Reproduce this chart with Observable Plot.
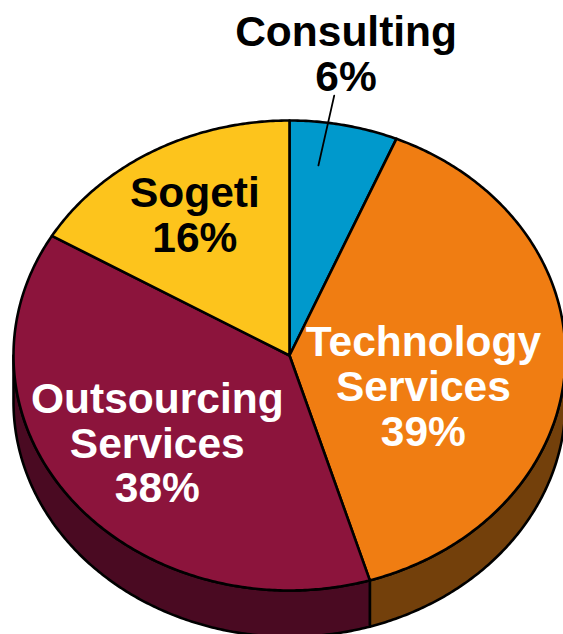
<!DOCTYPE html>
<html>
<head>
<meta charset="utf-8">
<style>html,body{margin:0;padding:0;background:#fff}svg{display:block}</style>
<script src="https://cdn.jsdelivr.net/npm/d3@7"></script>
<script src="https://cdn.jsdelivr.net/npm/@observablehq/plot@0.6"></script>
</head>
<body>
<div id="chart"></div>
<script>
const categories = ["Consulting", "Technology\nServices", "Outsourcing\nServices", "Sogeti"];
const shareLabels = [6, 39, 38, 16];
const shares = [6.33, 38.97, 38.2, 16.5];
const topColors = ["#0099cc", "#f07d12", "#8c143c", "#fdc41c"];
const wallColors = ["#00668a", "#73400b", "#4a0a22", "#a08010"];
const textColors = ["#000", "#fff", "#fff", "#000"];

// Layout of the pie, in unit-circle coordinates
const depth = 0.197;
const labelX = [0.205, 0.485, -0.479, -0.343];
const labelY = [1.283, -0.133, -0.374, 0.596];

const arcs = d3.pie().sort(null)(shares);
const px = (t) => Math.sin(t);
const py = (t) => Math.cos(t);
const arcPoints = (a, b, off = 0) => {
  const n = Math.max(2, Math.ceil((b - a) / 0.01));
  return d3.range(n + 1).map((i) => {
    const t = a + (b - a) * i / n;
    return {x: px(t), y: py(t) - off};
  });
};

const tops = arcs.flatMap((d, i) => {
  const c = {x: 0, y: 0};
  return [c, ...arcPoints(d.startAngle, d.endAngle), c].map((p) => ({...p, k: i}));
});

const lo = Math.PI / 2, hi = Math.PI * 3 / 2;
const walls = arcs.flatMap((d, i) => {
  const a = Math.max(d.startAngle, lo), b = Math.min(d.endAngle, hi);
  if (a >= b) return [];
  const upper = arcPoints(a, b);
  const lower = arcPoints(a, b, depth).reverse();
  return [...upper, ...lower, upper[0]].map((p) => ({...p, k: i}));
});

const labels = arcs.map((d, i) => ({
  x: labelX[i],
  y: labelY[i],
  text: `${categories[i]}\n${shareLabels[i]}%`,
  color: textColors[i]
}));

const mid0 = (arcs[0].startAngle + arcs[0].endAngle) / 2;
const leader = [
  {x: px(mid0) * 0.53, y: py(mid0) * 0.825},
  {x: px(mid0) * 0.82, y: py(mid0) * 1.128}
];

const chart = Plot.plot({
  width: 563,
  height: 634,
  margin: 0,
  x: {domain: [-1, 1], range: [13, 565], axis: null},
  y: {domain: [1, -1], range: [120, 590], axis: null},
  marks: [
    Plot.line(walls, {x: "x", y: "y", z: "k", fill: (d) => wallColors[d.k], stroke: "#000", strokeWidth: 2.6, curve: "linear"}),
    Plot.line(tops, {x: "x", y: "y", z: "k", fill: (d) => topColors[d.k], stroke: "#000", strokeWidth: 2.6, curve: "linear"}),
    Plot.line(leader, {x: "x", y: "y", stroke: "#000", strokeWidth: 1.8}),
    Plot.text(labels, {
      x: "x", y: "y", text: "text", fill: "color",
      fontFamily: "Liberation Sans", fontWeight: "bold", fontSize: 42.5, lineHeight: 1.05
    })
  ]
});
document.getElementById("chart").append(chart);
</script>
</body>
</html>
